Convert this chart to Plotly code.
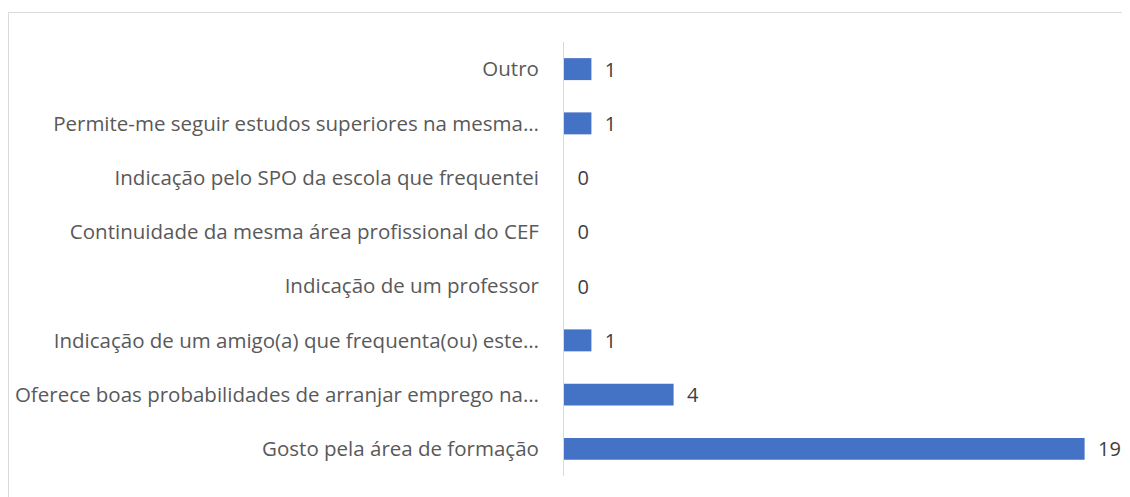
import plotly.graph_objects as go

categories = [
    "Gosto pela área de formação",
    "Oferece boas probabilidades de arranjar emprego na…",
    "Indicação de um amigo(a) que frequenta(ou) este…",
    "Indicação de um professor",
    "Continuidade da mesma área profissional do CEF",
    "Indicação pelo SPO da escola que frequentei",
    "Permite-me seguir estudos superiores na mesma…",
    "Outro",
]
values = [19, 4, 1, 0, 0, 0, 1, 1]

OFF = 8  # default page body margin
W, H = 1130 - OFF, 497 - OFF
L, T = 564 - OFF, 42 - OFF
pw, ph = 548, 434
R, B = W - L - pw, H - T - ph

fig = go.Figure(go.Bar(
    y=categories, x=values, orientation="h",
    marker=dict(color="#4472C4", line=dict(width=0)),
    text=["\u00a0\u00a0" + str(v) for v in values], textposition="outside",
    constraintext="none",
    textfont=dict(family="Open Sans, sans-serif", size=20, color="#404040"),
    cliponaxis=False, width=0.405,
))

def px2x(p): return (p - OFF - L) / pw
def py2y(p): return (H - B - (p - OFF)) / ph

fig.update_layout(
    width=W, height=H,
    margin=dict(l=L, r=R, t=T, b=B, pad=0),
    plot_bgcolor="white", paper_bgcolor="white",
    showlegend=False,
    font=dict(family="Open Sans, sans-serif", size=20.5, color="#595959"),
    xaxis=dict(range=[0, 20], visible=False, showgrid=False, zeroline=False),
    yaxis=dict(type="category", categoryorder="array", categoryarray=categories,
               range=[-0.5, 7.5], showline=True, linecolor="#d9d9d9", linewidth=1,
               showgrid=False, zeroline=False, ticks="outside", ticklen=20,
               tickcolor="rgba(0,0,0,0)", automargin=False),
    shapes=[dict(type="rect", xref="paper", yref="paper",
                 x0=px2x(8.5), x1=px2x(1140), y0=py2y(520), y1=py2y(12.5),
                 line=dict(color="#d9d9d9", width=1), fillcolor="rgba(0,0,0,0)",
                 layer="below")],
)

fig.write_html("out.html")
